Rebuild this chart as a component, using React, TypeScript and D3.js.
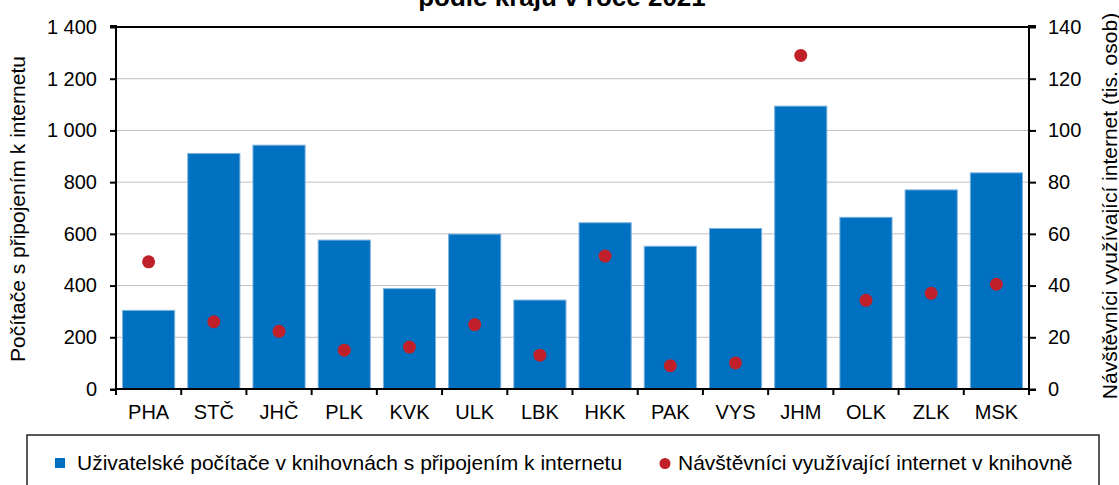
import React, { useRef, useEffect } from 'react';
import * as d3 from 'd3';

const categories = ['PHA', 'STČ', 'JHČ', 'PLK', 'KVK', 'ULK', 'LBK', 'HKK', 'PAK', 'VYS', 'JHM', 'OLK', 'ZLK', 'MSK'];
const computers = [304, 911, 943, 576, 388, 599, 344, 643, 552, 621, 1094, 664, 770, 836];
const visitors = [49.2, 26.0, 22.3, 15.0, 16.2, 24.9, 13.1, 51.4, 9.0, 10.1, 129.0, 34.3, 37.0, 40.5];
const leftTicks = [0, 200, 400, 600, 800, 1000, 1200, 1400];
const rightTicks = [0, 20, 40, 60, 80, 100, 120, 140];

const W = 1119;
const H = 485;
const font = '"Liberation Sans", Arial, sans-serif';
const blue = '#0070C0';
const red = '#C0202A';

const App = () => {
    const ref = useRef(null);

    useEffect(() => {
        const svg = d3.select(ref.current);
        const m = { left: 116, right: 1029, top: 27, bottom: 389 };
        const cz = d3.formatLocale({ decimal: ',', thousands: '\u00a0', grouping: [3], currency: ['', ' Kč'] });
        const fmt = cz.format(',d');

        const x = d3.scaleBand().domain(categories).range([m.left, m.right]).paddingInner(0.2).paddingOuter(0.1);
        const yL = d3.scaleLinear().domain([0, 1400]).range([m.bottom, m.top]);
        const yR = d3.scaleLinear().domain([0, 140]).range([m.bottom, m.top]);

        const g = svg.append('g');

        // gridlines
        g.append('g').selectAll('line').data(leftTicks.slice(1, -1)).join('line')
            .attr('x1', m.left).attr('x2', m.right)
            .attr('y1', d => yL(d)).attr('y2', d => yL(d))
            .attr('stroke', '#C0C0C0').attr('stroke-width', 1);

        // bars
        g.append('g').selectAll('rect').data(computers).join('rect')
            .attr('x', (d, i) => x(categories[i]))
            .attr('y', d => yL(d))
            .attr('width', x.bandwidth())
            .attr('height', d => yL(0) - yL(d))
            .attr('fill', blue)
            .attr('stroke', '#7FB2DE').attr('stroke-width', 1);

        // dots
        g.append('g').selectAll('circle').data(visitors).join('circle')
            .attr('cx', (d, i) => x(categories[i]) + x.bandwidth() / 2)
            .attr('cy', d => yR(d))
            .attr('r', 6.5)
            .attr('fill', red);

        // frame
        g.append('line').attr('x1', m.left - 1).attr('x2', m.right + 1).attr('y1', m.top).attr('y2', m.top)
            .attr('stroke', '#000').attr('stroke-width', 2);

        const left = g.append('g').attr('transform', `translate(${m.left},0)`)
            .call(d3.axisLeft(yL).tickValues(leftTicks).tickFormat(fmt).tickSize(6).tickPadding(13));
        const right = g.append('g').attr('transform', `translate(${m.right},0)`)
            .call(d3.axisRight(yR).tickValues(rightTicks).tickFormat(d3.format('d')).tickSize(7).tickPadding(12));
        const bottom = g.append('g').attr('transform', `translate(0,${m.bottom})`)
            .call(d3.axisBottom(x).tickSize(0).tickPadding(16));

        // category separators
        const step = x.step();
        bottom.selectAll('line.sep').data(d3.range(categories.length + 1)).join('line')
            .attr('class', 'sep')
            .attr('x1', i => m.left + i * step).attr('x2', i => m.left + i * step)
            .attr('y1', 0).attr('y2', 6)
            .attr('stroke', '#000').attr('stroke-width', 2);

        [left, right, bottom].forEach(a => {
            a.select('.domain').attr('stroke', '#000').attr('stroke-width', 2);
            a.selectAll('.tick line').attr('stroke', '#000').attr('stroke-width', 2);
            a.selectAll('.tick text').attr('fill', '#000').style('font-size', '20px').style('font-family', font);
        });
        left.select('.domain').attr('d', `M-6,${m.bottom + 1}H0V${m.top - 1}H-6`);
        right.select('.domain').attr('d', `M7,${m.bottom + 1}H0V${m.top - 1}H7`);
        bottom.select('.domain').attr('d', `M${m.left},0H${m.right}`);

        return () => {
            g.remove();
        };
    }, []);

    return (
        <svg ref={ref} width={W} height={H} style={{ position: 'absolute', left: 0, top: 0, background: '#fff' }}
            fontFamily={font}>
            <text x={562} y={6} textAnchor="middle" fontSize={26} fontWeight="bold">podle krajů v roce 2021</text>
            <text transform="translate(25,209) rotate(-90)" textAnchor="middle" fontSize={21}>
                Počítače s připojením k internetu
            </text>
            <text transform="translate(1117,206) rotate(-90)" textAnchor="middle" fontSize={21}>
                Návštěvníci využívající internet (tis. osob)
            </text>
            <rect x={27} y={435} width={1072} height={60} fill="none" stroke="#222" strokeWidth={1.5} />
            <rect x={55} y={458} width={10} height={10} fill={blue} />
            <text x={77} y={470} fontSize={21}>Uživatelské počítače v knihovnách s připojením k internetu</text>
            <circle cx={665} cy={463.5} r={5.5} fill={red} />
            <text x={678} y={470} fontSize={21}>Návštěvníci využívající internet v knihovně</text>
        </svg>
    );
};

export default App;
